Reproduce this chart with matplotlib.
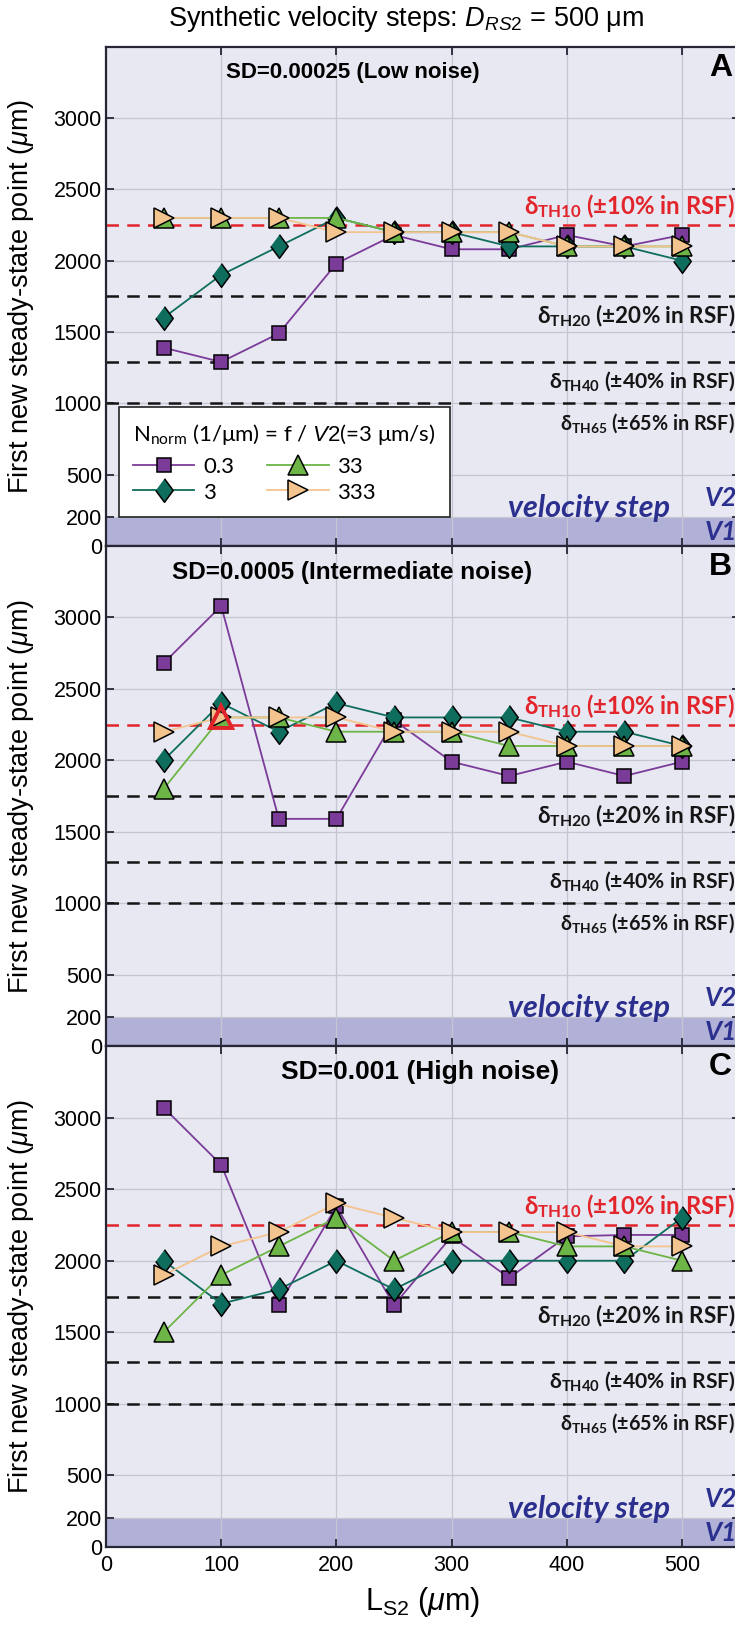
import matplotlib
matplotlib.use('Agg')
import matplotlib.pyplot as plt

plt.rcParams.update({
    'mathtext.fontset': 'custom',
    'mathtext.rm': 'Liberation Sans',
    'mathtext.it': 'Liberation Sans:italic',
    'mathtext.bf': 'Lato:bold',
    'mathtext.sf': 'Lato',
})

# ---------------- data ----------------
L_s2 = [50, 100, 150, 200, 250, 300, 350, 400, 450, 500]
nnorm_labels = ['0.3', '3', '33', '333']

# Panel A  SD=0.00025
A_03 = [1390, 1290, 1490, 1980, 2180, 2080, 2080, 2180, 2100, 2180]
A_3 = [1600, 1900, 2100, 2300, 2200, 2200, 2100, 2100, 2100, 2000]
A_33 = [2300, 2300, 2300, 2300, 2200, 2200, 2200, 2100, 2100, 2100]
A_333 = [2300, 2300, 2300, 2200, 2200, 2200, 2200, 2100, 2100, 2100]
# Panel B  SD=0.0005
B_03 = [2680, 3080, 1590, 1590, 2280, 1990, 1890, 1990, 1890, 1990]
B_3 = [2000, 2400, 2200, 2400, 2300, 2300, 2300, 2200, 2200, 2100]
B_33 = [1800, 2300, 2300, 2200, 2200, 2200, 2100, 2100, 2100, 2100]
B_333 = [2200, 2300, 2300, 2300, 2200, 2200, 2200, 2100, 2100, 2100]
B_highlight_x = [100]
B_highlight_y = [2300]
# Panel C  SD=0.001
C_03 = [3070, 2670, 1690, 2380, 1690, 2170, 1880, 2170, 2180, 2180]
C_3 = [2000, 1700, 1800, 2000, 1800, 2000, 2000, 2000, 2000, 2300]
C_33 = [1500, 1900, 2100, 2300, 2000, 2200, 2200, 2100, 2100, 2000]
C_333 = [1900, 2100, 2200, 2400, 2300, 2200, 2200, 2200, 2100, 2100]

panel_titles = ['SD=0.00025 (Low noise)', 'SD=0.0005 (Intermediate noise)', 'SD=0.001 (High noise)']
panel_letters = ['A', 'B', 'C']

thresholds = [2250, 1750, 1290, 1000]
threshold_names = ['TH10', 'TH20', 'TH40', 'TH65']
threshold_pct = ['±10%', '±20%', '±40%', '±65%']
velocity_step_top = 200

yticks = [0, 200, 500, 1000, 1500, 2000, 2500, 3000]
xticks = [0, 100, 200, 300, 400, 500]

# ---------------- styling ----------------
BG = '#e8e8f2'
BAND = '#b1b1d7'
FRAME = '#262637'
NAVY = '#2b2f8e'
RED = '#e2242b'
colors = ['#7b3b98', '#0f6d5d', '#6cb546', '#f4c48e']
diamond = [(0, 1), (0.74, 0), (0, -1), (-0.74, 0)]
markers = ['s', diamond, '^', '>']
msizes = [10, 17, 14, 14]

NARROW = ['Liberation Sans Narrow', 'Liberation Sans', 'DejaVu Sans']
HELV = ['Liberation Sans', 'DejaVu Sans']
MYR = ['Lato', 'DejaVu Sans']

panels = [(A_03, A_3, A_33, A_333), (B_03, B_3, B_33, B_333), (C_03, C_3, C_33, C_333)]

fig = plt.figure(figsize=(7.35, 16.28), dpi=100)
left = 106 / 735
width = 550 * 1.152 / 735
tops = [1 - 46.7 / 1628, 1 - 546 / 1628, 1 - 1046 / 1628]
bots = [1 - 546 / 1628, 1 - 1046 / 1628, 1 - 1547 / 1628]

th_fs = [17.2, 16.2, 15.2, 14.2]
th_y = [(2285, 'bottom'), (1705, 'top'), (1240, 'top'), (945, 'top')]
title_x = [0.39, 0.388, 0.495]
title_fs = [16, 17.5, 19]

for i in range(3):
    ax = fig.add_axes([left, bots[i], width, tops[i] - bots[i]])
    ax.set_facecolor(BG)
    ax.set_xlim(0, 550)
    ax.set_ylim(0, 3500)
    ax.set_axisbelow(True)
    ax.grid(True, color='#c6c6d2', lw=0.9)
    ax.axhspan(0, velocity_step_top, color=BAND, zorder=0.3, lw=0)
    for s in ax.spines.values():
        s.set_color(FRAME)
        s.set_linewidth(1.6)
    ax.set_xticks(xticks)
    ax.set_yticks(yticks)
    ax.tick_params(direction='in', length=6, width=1.3, color=FRAME,
                   top=True, right=True, labelsize=15.5, pad=3)
    ax.tick_params(axis='x', pad=6)
    for lab in ax.get_yticklabels() + ax.get_xticklabels():
        lab.set_family(NARROW)
    if i < 2:
        ax.tick_params(labelbottom=False)

    # threshold lines
    for k, th in enumerate(thresholds):
        col = RED if k == 0 else '#151515'
        ax.axhline(th, color=col, lw=1.8, ls=(0, (5, 3.3)), zorder=1.5)
        yy, va = th_y[k]
        ax.text(0.993, yy, 'δ$_{\\mathbf{%s}}$ (%s in RSF)' % (threshold_names[k], threshold_pct[k]),
                transform=ax.get_yaxis_transform(), ha='right', va=va,
                fontsize=th_fs[k], fontweight='bold', family=MYR, color=col, zorder=6)

    # data
    for vals, mk, col, ms, lab in zip(panels[i], markers, colors, msizes, nnorm_labels):
        ax.plot(L_s2, vals, color=col, lw=1.3, marker=mk, ms=ms, mfc=col,
                mec='black', mew=1.1, label=lab, zorder=3)
    if i == 1:
        ax.plot(B_highlight_x, B_highlight_y, ls='none', marker='^', ms=16, mfc='none',
                mec=RED, mew=2.8, zorder=5)

    # texts
    ax.text(title_x[i], 0.948, panel_titles[i], transform=ax.transAxes, ha='center', va='center',
            fontsize=title_fs[i], fontweight='bold', family=HELV)
    ax.text(0.97, 0.958, panel_letters[i], transform=ax.transAxes, ha='center', va='center',
            fontsize=23, fontweight='bold', family=HELV)
    ax.text(490, 265, 'velocity step', ha='right', va='center', fontsize=22,
            fontweight='bold', style='italic', family=MYR, color=NAVY, zorder=6)
    ax.text(520, 335, 'V2', ha='left', va='center', fontsize=19,
            fontweight='bold', style='italic', family=MYR, color=NAVY, zorder=6)
    ax.text(520, 100, 'V1', ha='left', va='center', fontsize=19,
            fontweight='bold', style='italic', family=MYR, color=NAVY, zorder=6)

    ax.set_ylabel('First new steady-state point ($\\mu$m)', fontsize=19.5, family=HELV)
    ax.yaxis.set_label_coords(-0.11, 0.5)

    if i == 0:
        leg = ax.legend(ncol=2, loc='lower left', bbox_to_anchor=(0.02, 0.058),
                        title='N$_{\\mathsf{norm}}$ (1/μm) = f / $\\mathit{V2}$(=3 μm/s)',
                        frameon=True, fancybox=False, framealpha=1, edgecolor='#222222',
                        prop={'family': MYR, 'size': 16}, title_fontproperties={'family': MYR, 'size': 16},
                        alignment='left', handlelength=2.75, columnspacing=1.5,
                        borderaxespad=0, handletextpad=0.4, labelspacing=0.2,
                        handleheight=0.9, borderpad=0.65)
        leg._legend_box.sep = 7
        leg.get_frame().set_linewidth(1.2)
        leg.set_zorder(7)
    if i == 2:
        ax.set_xlabel('L$_{\\mathrm{S2}}$ ($\\mu$m)', fontsize=22, family=NARROW, labelpad=6)

fig.text(0.553, 1 - 19 / 1628, 'Synthetic velocity steps: $D_{RS2}$ = 500 μm', ha='center', va='center',
         fontsize=19.5, family=NARROW)

fig.savefig('out.png', dpi=100)
